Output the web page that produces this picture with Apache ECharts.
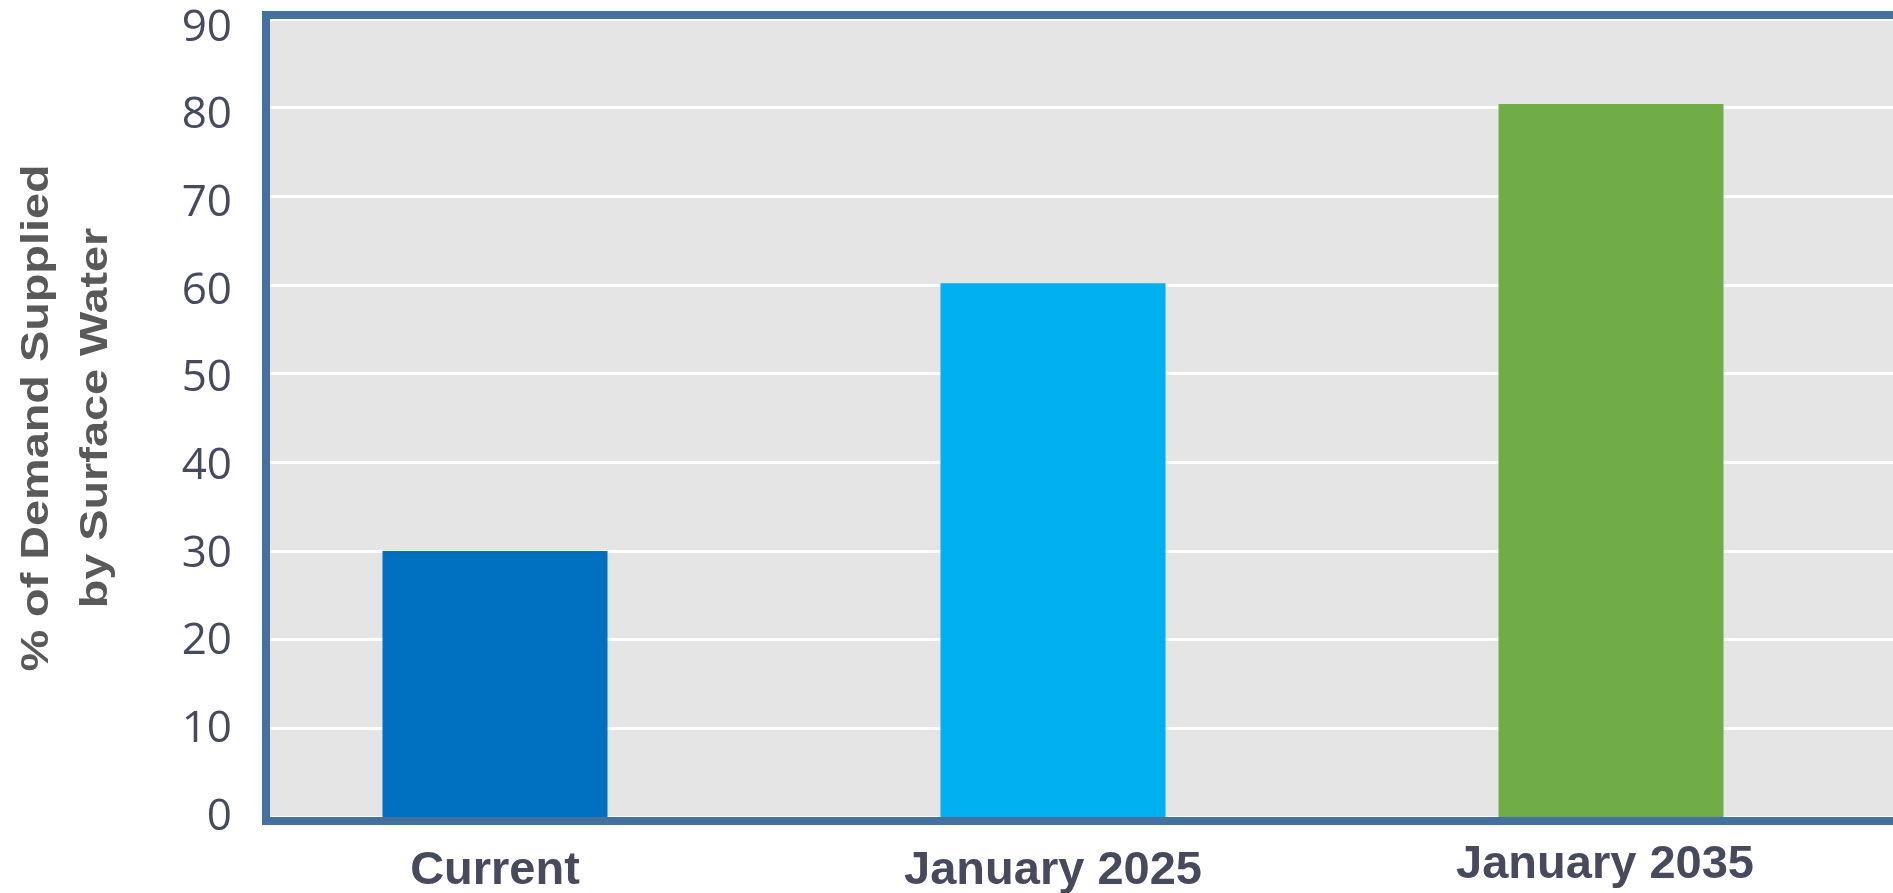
<!DOCTYPE html>
<html>
<head>
<meta charset="utf-8">
<script src="https://cdn.jsdelivr.net/npm/echarts@6/dist/echarts.min.js"></script>
<style>
html,body{margin:0;padding:0;background:#fff;}
#chart{width:1893px;height:893px;}
</style>
</head>
<body>
<div id="chart"></div>
<script>
const categories = ['Current', 'January 2025', 'January 2035'];
const values = [30, 60.2, 80.4];
const barColors = ['#0070c0', '#00b0f0', '#70ad47'];
const yTicks = {min: 0, max: 90, interval: 10};
const yTitle = '% of Demand Supplied\nby Surface Water';

const chart = echarts.init(document.getElementById('chart'), null, {renderer: 'canvas'});

// per-tick label style (slight downward drift of upper labels, as in the source)
const tickRich = {};
for (let v = yTicks.min; v <= yTicks.max; v += yTicks.interval) {
  const off = Math.round(v / 10);
  tickRich['t' + v] = {fontFamily: 'Open Sans', fontSize: 44, color: '#454a5f',
                       padding: [off * 2, 0, 0, 0]};
}
// per-category label style (the last label sits a little higher and left)
const catBase = {fontFamily: 'Liberation Sans', fontWeight: 'bold', fontSize: 47, color: '#474a5d'};
const catRich = {
  c0: Object.assign({padding: [6, 0, 0, 0]}, catBase),
  c1: Object.assign({padding: [6, 0, 0, 0]}, catBase),
  c2: Object.assign({padding: [0, 12, 0, 0]}, catBase)
};

const option = {
  animation: false,
  backgroundColor: '#ffffff',
  grid: [
    // frame (border only), extends past the right edge
    {left: 266, top: 15, width: 1700, bottom: 72, show: true, backgroundColor: 'transparent',
     borderColor: '#44719f', borderWidth: 8, z: 5, containLabel: false, outerBoundsMode: 'none'},
    // inner plot area: background and y axis
    {left: 270, top: 19, width: 1700, bottom: 76, show: true, backgroundColor: '#e5e5e5',
     borderWidth: 0, containLabel: false, outerBoundsMode: 'none'},
    // bars
    {left: 216, top: 19, right: 3, bottom: 76, show: false, containLabel: false, outerBoundsMode: 'none'}
  ],
  xAxis: [
    {gridIndex: 0, type: 'category', data: categories, show: false},
    {gridIndex: 1, type: 'category', data: categories, show: false},
    {gridIndex: 2, type: 'category', data: categories,
     axisLine: {show: false}, axisTick: {show: false},
     axisLabel: {margin: 25, fontFamily: 'Liberation Sans', fontWeight: 'bold', fontSize: 47, color: '#474a5d',
                 formatter: (v, i) => '{c' + i + '|' + v + '}', rich: catRich}}
  ],
  yAxis: [
    {gridIndex: 0, type: 'value', min: yTicks.min, max: yTicks.max, interval: yTicks.interval, show: false},
    {gridIndex: 1, type: 'value', min: yTicks.min, max: yTicks.max, interval: yTicks.interval,
     axisLine: {show: false}, axisTick: {show: false},
     splitLine: {show: true, lineStyle: {color: '#ffffff', width: 3}},
     axisLabel: {margin: 38, fontFamily: 'Open Sans', fontSize: 44, color: '#454a5f',
                 formatter: v => '{t' + v + '|' + v + '}', rich: tickRich}},
    {gridIndex: 2, type: 'value', min: yTicks.min, max: yTicks.max, interval: yTicks.interval, show: false}
  ],
  graphic: [
    {type: 'text', x: 67, y: 418, rotation: Math.PI / 2, scaleX: 1.2, scaleY: 1,
     style: {text: yTitle, fontFamily: 'Liberation Sans', fontWeight: 'bold', fontSize: 39,
             lineHeight: 59, fill: '#595959', align: 'center', verticalAlign: 'middle'}}
  ],
  series: [{
    type: 'bar', xAxisIndex: 2, yAxisIndex: 2, barWidth: 225, z: 3,
    data: values.map((v, i) => ({value: v, itemStyle: {color: barColors[i]}}))
  }]
};
chart.setOption(option);
</script>
</body>
</html>
